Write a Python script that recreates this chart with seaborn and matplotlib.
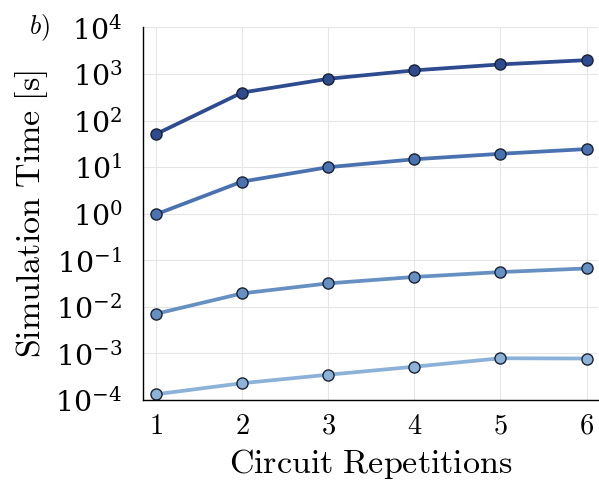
import numpy as np
import pandas as pd
import seaborn as sns
import matplotlib
matplotlib.use("Agg")
import matplotlib.pyplot as plt
from matplotlib.ticker import LogFormatterMathtext, FixedLocator, NullLocator

reps = [1, 2, 3, 4, 5, 6]
series_a = [51, 400, 790, 1200, 1610, 1990]
series_b = [0.97, 4.9, 10.0, 14.8, 19.4, 24.5]
series_c = [0.0071, 0.0195, 0.032, 0.044, 0.056, 0.067]
series_d = [0.000133, 0.00023, 0.00035, 0.00052, 0.00079, 0.00078]
names = ["a", "b", "c", "d"]
colors = ["#2d4b8e", "#4a72b0", "#6690c2", "#8cb2d8"]

rows = []
for n, vals in zip(names, [series_a, series_b, series_c, series_d]):
    for x, v in zip(reps, vals):
        rows.append({"reps": x, "time": v, "series": n})
df = pd.DataFrame(rows)

sns.set_style("white")
plt.rcParams["mathtext.fontset"] = "cm"
plt.rcParams["font.family"] = ["DejaVu Serif"]
plt.rcParams["text.color"] = "black"
plt.rcParams["axes.labelcolor"] = "black"
plt.rcParams["xtick.color"] = "black"
plt.rcParams["ytick.color"] = "black"

fig = plt.figure(figsize=(5.99, 4.82), dpi=100)
ax = fig.add_axes([0.239, 0.170, 0.759, 0.773])

sns.lineplot(data=df, x="reps", y="time", hue="series", palette=colors,
             marker="o", markersize=8, markeredgecolor="#1a2233", markeredgewidth=1.0,
             linewidth=2.7, legend=False, ax=ax)

ax.set_yscale("log")
ax.set_ylim(1e-4, 1e4)
ax.set_xlim(0.853, 6.13)
ax.yaxis.set_major_locator(FixedLocator([10.0**k for k in range(-4, 5)]))
ax.yaxis.set_minor_locator(NullLocator())
ax.yaxis.set_major_formatter(LogFormatterMathtext())
ax.set_xticks(reps)
ax.set_xticklabels([rf"$\mathrm{{{r}}}$" for r in reps])

ax.grid(True, color="#e6e6e6", linewidth=0.8)
ax.tick_params(axis="both", direction="in", length=4, width=1, labelsize=20.5,
               color="black", labelcolor="black")
ax.tick_params(axis="y", pad=15)
ax.tick_params(axis="x", pad=9)
for s in ["top", "right"]:
    ax.spines[s].set_visible(False)
for s in ["left", "bottom"]:
    ax.spines[s].set_color("black")
    ax.spines[s].set_linewidth(1.0)

ax.set_xlabel(r"$\mathrm{Circuit\ Repetitions}$", fontsize=24.5, labelpad=5, color="black")
ax.set_ylabel(r"$\mathrm{Simulation\ Time\ [s]}$", fontsize=24.5, labelpad=4, color="black")
fig.text(0.048, 0.943, r"$b)$", fontsize=19, ha="left", va="center", color="black")

fig.savefig("out.png", dpi=100)
